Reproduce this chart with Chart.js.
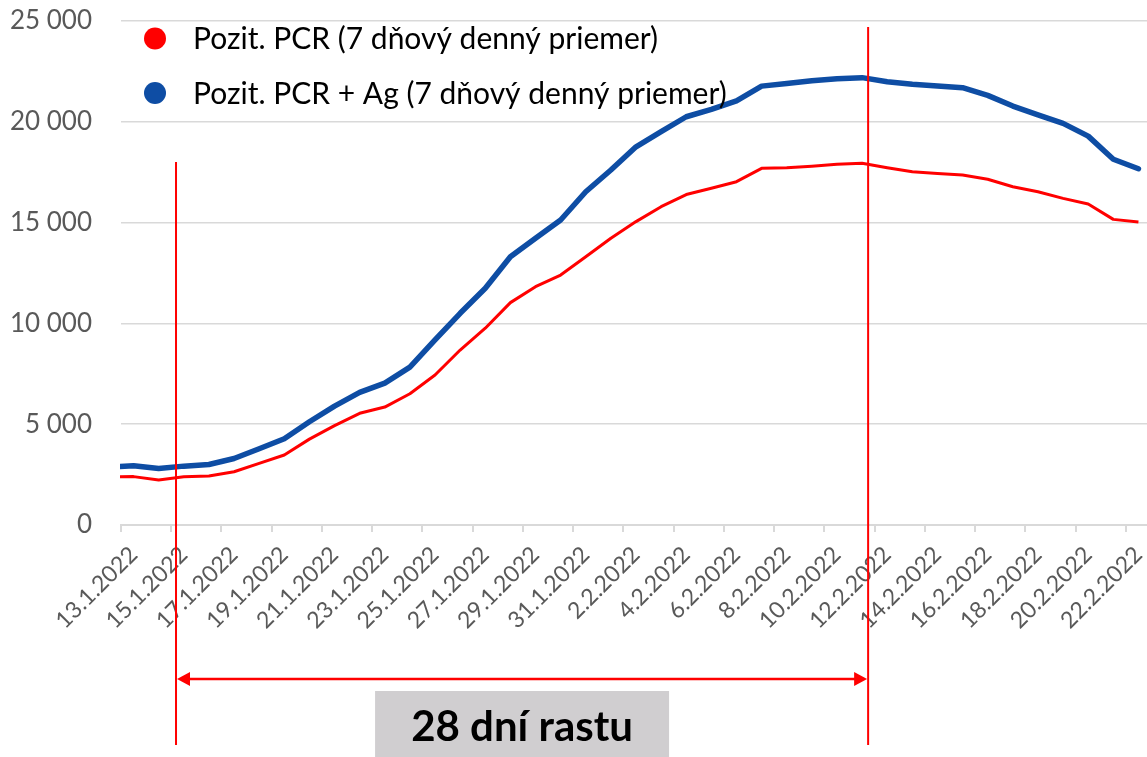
<!DOCTYPE html>
<html>
<head>
<meta charset="utf-8">
<script src="https://cdn.jsdelivr.net/npm/chart.js@4.4.1/dist/chart.umd.min.js"></script>
<style>
html,body{margin:0;padding:0;overflow:hidden;background:#fff;width:1147px;height:757px}
canvas{display:block}
</style>
</head>
<body>
<canvas id="c" width="1151" height="757"></canvas>
<script>
// Categories (12.1 is only partly visible at the left edge; axis starts at 13.1)
const dates = [
  '12.1.2022','13.1.2022','14.1.2022','15.1.2022','16.1.2022','17.1.2022','18.1.2022','19.1.2022',
  '20.1.2022','21.1.2022','22.1.2022','23.1.2022','24.1.2022','25.1.2022','26.1.2022','27.1.2022',
  '28.1.2022','29.1.2022','30.1.2022','31.1.2022','1.2.2022','2.2.2022','3.2.2022','4.2.2022',
  '5.2.2022','6.2.2022','7.2.2022','8.2.2022','9.2.2022','10.2.2022','11.2.2022','12.2.2022',
  '13.2.2022','14.2.2022','15.2.2022','16.2.2022','17.2.2022','18.2.2022','19.2.2022','20.2.2022',
  '21.2.2022','22.2.2022'
];
const firstShownDate = '13.1.2022';

// Series values (7-day daily average)
const pcrAvg = [
  2380, 2400, 2230, 2390, 2430, 2640, 3060, 3470, 4260, 4930, 5540, 5850,
  6510, 7440, 8680, 9760, 11030, 11820, 12400, 13310, 14220, 15050, 15790, 16390,
  16700, 17030, 17690, 17720, 17800, 17890, 17940, 17720, 17520, 17440, 17360, 17150,
  16780, 16530, 16200, 15920, 15160, 15030
];
const pcrAgAvg = [
  2860, 2940, 2800, 2920, 3000, 3300, 3780, 4280, 5120, 5900, 6580, 7040,
  7830, 9180, 10500, 11740, 13310, 14220, 15130, 16530, 17610, 18760, 19510, 20250,
  20620, 21040, 21770, 21900, 22040, 22140, 22190, 21990, 21860, 21770, 21690, 21310,
  20780, 20340, 19920, 19290, 18140, 17670
];

const seriesLabels = ['Pozit. PCR (7 dňový denný priemer)', 'Pozit. PCR + Ag (7 dňový denný priemer)'];
const seriesColors = ['#FF0000', '#0E4DA4'];

// Y axis
const yMin = 0, yMax = 25000, yStep = 5000;

// Growth-period annotation (fractional category indices)
const growthStartIdx = 2.69;
const growthEndIdx = 30.24;
const growthStartTopValue = 18000;
const growthEndTopValue = 24700;
const growthLabel = '28 dní rastu';

function fmtThousands(v) {
  return String(v).replace(/\B(?=(\d{3})+(?!\d))/g, ' ');
}

const overlayPlugin = {
  id: 'overlay',
  afterDraw(chart) {
    const {ctx, chartArea} = chart;
    const x = chart.scales.x, y = chart.scales.y;
    const H = chart.height;
    ctx.save();

    // Legend inside the plot area
    chart.data.datasets.forEach((ds, i) => {
      const cy = chartArea.top + 17.5 + i * 54.5;
      ctx.beginPath();
      ctx.fillStyle = ds.borderColor;
      ctx.arc(chartArea.left + 34, cy, 11, 0, Math.PI * 2);
      ctx.fill();
      ctx.fillStyle = '#000000';
      ctx.font = '30px Lato';
      ctx.textAlign = 'left';
      ctx.textBaseline = 'middle';
      ctx.fillText(ds.label, chartArea.left + 72, cy + 1);
    });

    // Vertical markers
    const xs = x.getPixelForValue(growthStartIdx);
    const xe = x.getPixelForValue(growthEndIdx);
    const bottom = H - 12;
    ctx.strokeStyle = '#FF0000';
    ctx.lineWidth = 2;
    ctx.beginPath();
    ctx.moveTo(xs, y.getPixelForValue(growthStartTopValue));
    ctx.lineTo(xs, bottom);
    ctx.moveTo(xe, y.getPixelForValue(growthEndTopValue));
    ctx.lineTo(xe, bottom);
    ctx.stroke();

    // Double arrow
    const ay = H - 78;
    const ah = 13, aw = 7;
    ctx.lineWidth = 2.5;
    ctx.beginPath();
    ctx.moveTo(xs + ah - 2, ay);
    ctx.lineTo(xe - ah + 2, ay);
    ctx.stroke();
    ctx.fillStyle = '#FF0000';
    ctx.beginPath();
    ctx.moveTo(xs + 1, ay);
    ctx.lineTo(xs + 1 + ah, ay - aw);
    ctx.lineTo(xs + 1 + ah, ay + aw);
    ctx.closePath();
    ctx.fill();
    ctx.beginPath();
    ctx.moveTo(xe - 1, ay);
    ctx.lineTo(xe - 1 - ah, ay - aw);
    ctx.lineTo(xe - 1 - ah, ay + aw);
    ctx.closePath();
    ctx.fill();

    // Label box
    const cx = (xs + xe) / 2;
    const bw = 294, bh = 70;
    ctx.fillStyle = '#D0CED0';
    ctx.fillRect(cx - bw / 2, H - 66, bw, bh);
    ctx.fillStyle = '#000000';
    ctx.font = 'bold 42px Lato';
    ctx.textAlign = 'center';
    ctx.textBaseline = 'middle';
    ctx.fillText(growthLabel, cx, H - 30);
    ctx.restore();
  }
};

function draw() {
  Chart.defaults.font.family = 'Lato';
  new Chart(document.getElementById('c'), {
    type: 'line',
    data: {
      labels: dates,
      datasets: [
        {
          label: seriesLabels[0],
          data: pcrAvg,
          borderColor: seriesColors[0],
          backgroundColor: seriesColors[0],
          borderWidth: 3,
          pointRadius: 0,
          tension: 0,
          borderJoinStyle: 'round',
          clip: {left: 1, right: false, top: false, bottom: false}
        },
        {
          label: seriesLabels[1],
          data: pcrAgAvg,
          borderColor: seriesColors[1],
          backgroundColor: seriesColors[1],
          borderWidth: 5.5,
          pointRadius: 0,
          tension: 0,
          borderJoinStyle: 'round',
          borderCapStyle: 'round',
          clip: {left: 1, right: false, top: false, bottom: false}
        }
      ]
    },
    options: {
      responsive: false,
      animation: false,
      events: [],
      layout: {padding: {top: 21, left: 0, right: 0, bottom: 0}},
      plugins: {legend: {display: false}, tooltip: {enabled: false}},
      scales: {
        x: {
          type: 'category',
          min: firstShownDate,
          offset: true,
          afterFit(scale) {
            scale.height = 232;
            scale.paddingLeft = 0;
            scale.paddingRight = 0;
          },
          grid: {
            offset: true,
            drawOnChartArea: false,
            drawTicks: true,
            tickLength: 7,
            lineWidth: 2,
            color: (ctx) => (ctx.index % 2 === 0 ? '#D9D9D9' : 'rgba(0,0,0,0)')
          },
          border: {display: true, color: '#D9D9D9', width: 2},
          ticks: {
            autoSkip: false,
            maxRotation: 45,
            minRotation: 45,
            padding: 9,
            color: '#595959',
            font: {size: 23},
            callback: function (val, idx) {
              return idx % 2 === 0 ? this.getLabelForValue(val) : '';
            }
          }
        },
        y: {
          min: yMin,
          max: yMax,
          afterFit(scale) {
            scale.width = 121;
            scale.paddingTop = 0;
            scale.paddingBottom = 0;
          },
          grid: {color: '#D9D9D9', lineWidth: 1.5, drawTicks: false},
          border: {display: false},
          ticks: {
            stepSize: yStep,
            padding: 29,
            color: '#595959',
            font: {size: 26},
            callback: (v) => fmtThousands(v)
          }
        }
      }
    },
    plugins: [overlayPlugin]
  });
}

Promise.all([
  document.fonts.load('26px Lato'),
  document.fonts.load('30px Lato'),
  document.fonts.load('bold 42px Lato')
]).then(draw, draw);
</script>
</body>
</html>
